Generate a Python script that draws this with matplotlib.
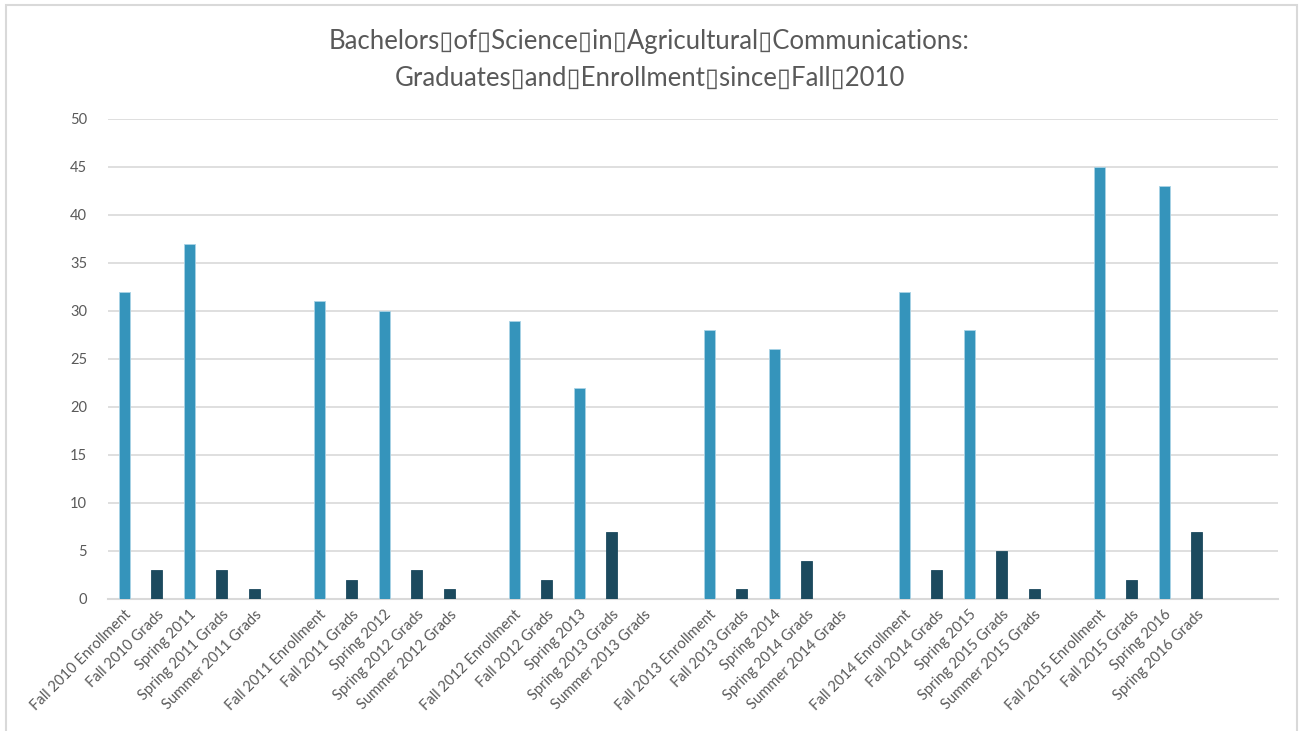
import matplotlib
matplotlib.use("Agg")
import matplotlib.pyplot as plt
from matplotlib.patches import Rectangle

categories = [
    "Fall 2010 Enrollment", "Fall 2010 Grads", "Spring 2011", "Spring 2011 Grads", "Summer 2011 Grads", "",
    "Fall 2011 Enrollment", "Fall 2011 Grads", "Spring 2012", "Spring 2012 Grads", "Summer 2012 Grads", "",
    "Fall 2012 Enrollment", "Fall 2012 Grads", "Spring 2013", "Spring 2013 Grads", "Summer 2013 Grads", "",
    "Fall 2013 Enrollment", "Fall 2013 Grads", "Spring 2014", "Spring 2014 Grads", "Summer 2014 Grads", "",
    "Fall 2014 Enrollment", "Fall 2014 Grads", "Spring 2015", "Spring 2015 Grads", "Summer 2015 Grads", "",
    "Fall 2015 Enrollment", "Fall 2015 Grads", "Spring 2016", "Spring 2016 Grads", "", "",
]
values = [
    32, 3, 37, 3, 1, None,
    31, 2, 30, 3, 1, None,
    29, 2, 22, 7, 0, None,
    28, 1, 26, 4, 0, None,
    32, 3, 28, 5, 1, None,
    45, 2, 43, 7, None, None,
]
yticks = [0, 5, 10, 15, 20, 25, 30, 35, 40, 45, 50]
title = ("Bachelors\u25afof\u25afScience\u25afin\u25afAgricultural\u25afCommunications:\n"
         "Graduates\u25afand\u25afEnrollment\u25afsince\u25afFall\u25af2010")

ENR = "#3594BB"
GRD = "#1C4A5E"
TXT = "#595959"
GRID = "#D9D9D9"

plt.rcParams['font.family'] = ['Lato', 'DejaVu Sans']

W, H = 1299, 731
fig = plt.figure(figsize=(W / 100, H / 100), dpi=100)
fig.patches.append(Rectangle((6 / W, -0.1), (1297 - 6) / W, 1.1 - 5 / H,
                             transform=fig.transFigure, fill=False,
                             edgecolor=GRID, linewidth=1.5))

ax = fig.add_axes([108 / W, (H - 599) / H, (1278 - 108) / W, (599 - 119) / H])

x = list(range(len(categories)))
for i, (c, v) in enumerate(zip(categories, values)):
    if v is None:
        continue
    grads = "Grads" in c
    ax.bar(i, v, width=0.34,
           color=GRD if grads else ENR,
           edgecolor=GRD if grads else "#A9D3E6",
           linewidth=0.6, zorder=3)

ax.set_xlim(-0.5, len(categories) - 0.5)
ax.set_ylim(0, 50)
ax.set_yticks(yticks)
ax.set_yticklabels([str(t) for t in yticks], color=TXT, fontsize=10.5)
ax.set_xticks(x)
ax.set_xticklabels(categories, rotation=45, ha='right', rotation_mode='anchor',
                   color=TXT, fontsize=10.6)
ax.tick_params(axis='both', length=0)
ax.tick_params(axis='y', pad=15)
ax.tick_params(axis='x', pad=6)
ax.grid(axis='y', color=GRID, linewidth=1.2, zorder=0)
for s in ['top', 'right', 'left']:
    ax.spines[s].set_visible(False)
ax.spines['bottom'].set_color(GRID)
ax.spines['bottom'].set_linewidth(1.5)

fig.text(0.5, 1 - 60 / H, title, ha='center', va='center', fontsize=18.5,
         color=TXT, linespacing=1.55)

fig.savefig("out.png", dpi=100)
